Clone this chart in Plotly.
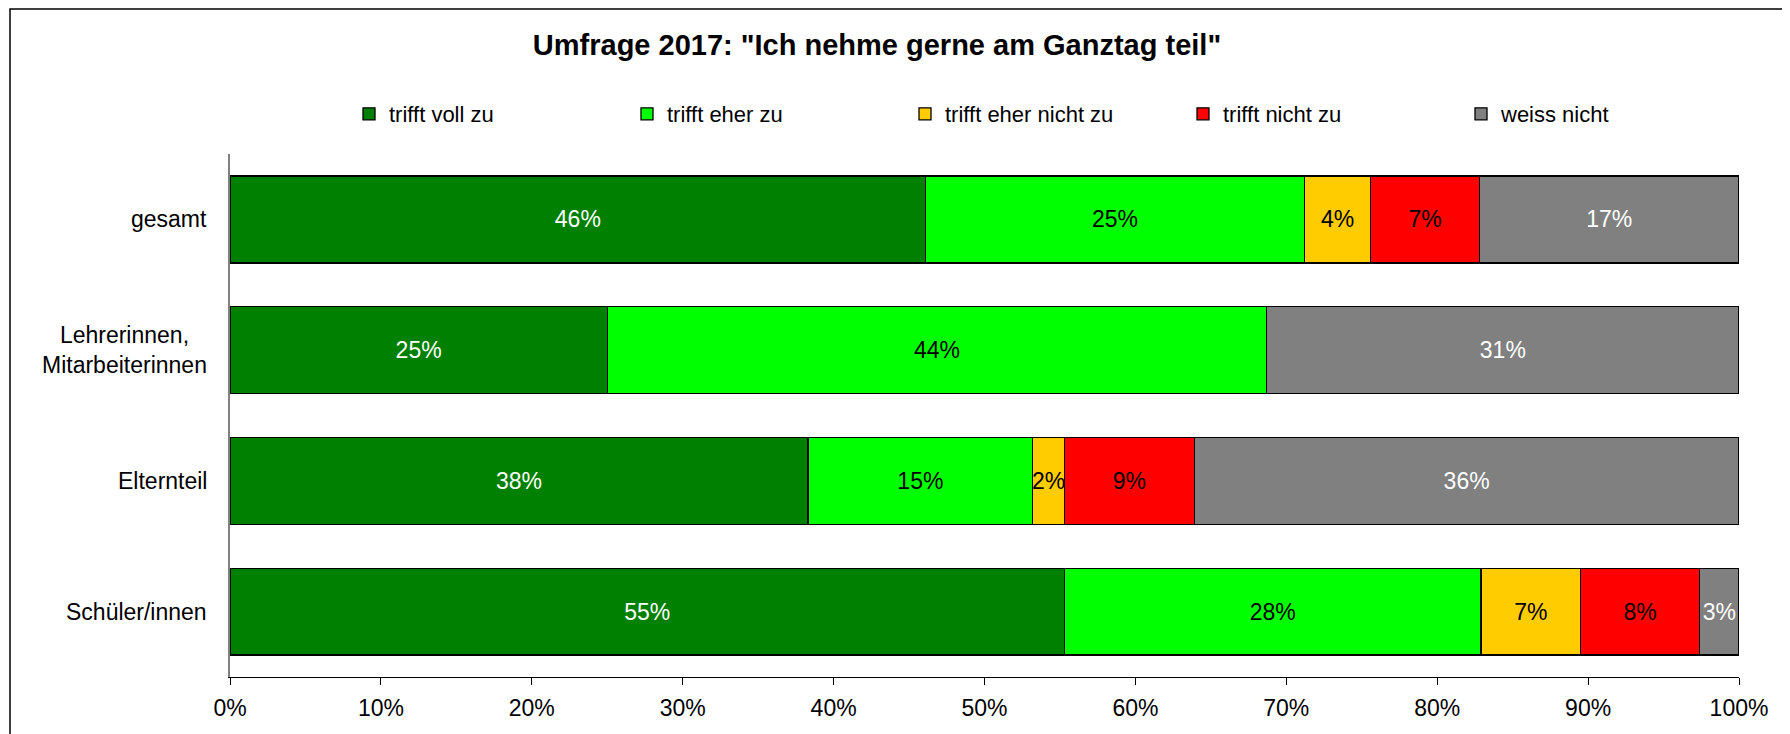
import plotly.graph_objects as go

categories = ["gesamt", "Lehrerinnen,<br>Mitarbeiterinnen", "Elternteil", "Schüler/innen"]
series_names = ["trifft voll zu", "trifft eher zu", "trifft eher nicht zu", "trifft nicht zu", "weiss nicht"]
voll_zu = [0.461, 0.250, 0.383, 0.553]
eher_zu = [0.251, 0.437, 0.149, 0.276]
eher_nicht_zu = [0.044, 0.0, 0.021, 0.066]
nicht_zu = [0.072, 0.0, 0.086, 0.079]
weiss_nicht = [0.172, 0.313, 0.361, 0.026]
tick_vals = [0, 0.1, 0.2, 0.3, 0.4, 0.5, 0.6, 0.7, 0.8, 0.9, 1.0]

series_values = [voll_zu, eher_zu, eher_nicht_zu, nicht_zu, weiss_nicht]
colors = ["#008000", "#00FF00", "#FFCC00", "#FF0000", "#808080"]
text_colors = ["white", "black", "black", "black", "white"]

FONT = "Liberation Sans, Arial, sans-serif"

# page body has an 8px default margin; figure is sized/positioned to compensate
W, H = 1782, 726
L, T = 222, 146
PW, PH = 1509, 523

fig = go.Figure()
for name, vals, col, tcol in zip(series_names, series_values, colors, text_colors):
    fig.add_trace(go.Bar(
        y=categories, x=vals, name=name, orientation="h",
        marker=dict(color=col, line=dict(color="black", width=1.3)),
        text=[f"{round(v*100)}%" if v > 0 else "" for v in vals],
        textposition="inside", insidetextanchor="middle",
        constraintext="none", textangle=0,
        textfont=dict(color=tcol, size=23, family=FONT),
        hoverinfo="skip",
    ))

for c in categories:
    fig.add_annotation(
        x=0, xref="paper", y=c, yref="y", text=c, showarrow=False,
        xanchor="right", xshift=-21, align="center",
        font=dict(size=23, color="black", family=FONT),
    )

fig.add_shape(type="rect", xref="paper", yref="paper",
              x0=(2 - L) / PW, x1=1.2, y0=-0.3, y1=(T + PH - 1) / PH,
              line=dict(color="black", width=1.5), fillcolor="rgba(0,0,0,0)", layer="below")

fig.update_layout(
    width=W, height=H,
    barmode="stack", bargap=0.335,
    plot_bgcolor="white", paper_bgcolor="white",
    margin=dict(l=L, r=W - L - PW, t=T, b=H - T - PH),
    font=dict(family=FONT, size=23, color="black"),
    title=dict(text='<b>Umfrage 2017: "Ich nehme gerne am Ganztag teil"</b>',
               x=869 / W, xanchor="center", y=1 - 37 / H, yanchor="middle",
               font=dict(size=29, family=FONT, color="black")),
    legend=dict(orientation="h", x=(349 - 230) / PW, xanchor="left",
                y=(677 - 114) / PH, yanchor="middle",
                entrywidth=233, traceorder="normal",
                font=dict(size=22, family=FONT, color="black")),
    showlegend=True,
)
fig.update_xaxes(range=[0, 1], tickvals=tick_vals, tickformat=".0%",
                 showgrid=False, zeroline=False, showline=True, linecolor="black", linewidth=1,
                 ticks="outside", ticklen=7, tickcolor="black", ticklabelstandoff=3,
                 tickfont=dict(size=23, family=FONT, color="black"), fixedrange=True)
fig.update_yaxes(autorange="reversed", showticklabels=False, showgrid=False, zeroline=False,
                 showline=True, linecolor="#808080", linewidth=1.5, ticks="", fixedrange=True)

fig.write_html("out.html")
